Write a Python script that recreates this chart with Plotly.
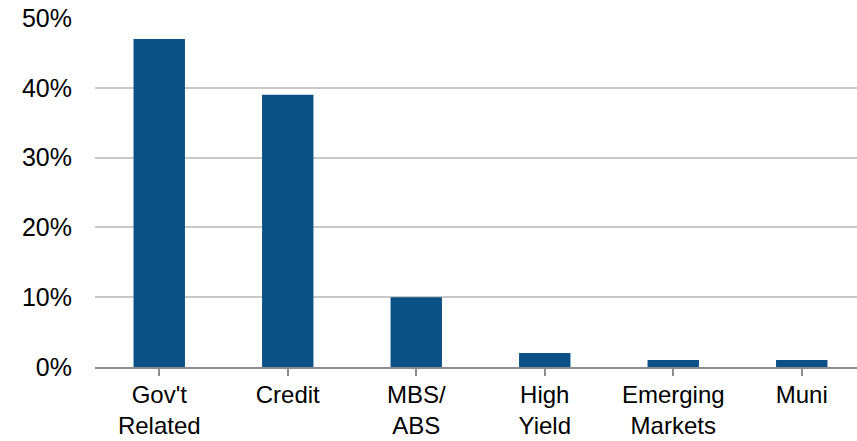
import plotly.graph_objects as go

categories = ["Gov't<br>Related", "Credit", "MBS/<br>ABS", "High<br>Yield", "Emerging<br>Markets", "Muni"]
values = [47, 39, 10, 2, 1, 1]
y_ticks = [0, 10, 20, 30, 40, 50]
y_tick_labels = ["0%", "10%", "20%", "30%", "40%", "50%"]

fig = go.Figure(go.Bar(x=list(range(len(categories))), y=values, marker_color="#0B5185",
                       marker_line_width=0, width=0.4))

fig.update_layout(
    width=857, height=441,
    margin=dict(l=95, r=0, t=18, b=74, autoexpand=False),
    paper_bgcolor="white", plot_bgcolor="white",
    font=dict(family="Liberation Sans, Arial, sans-serif", size=25, color="#000000"),
    showlegend=False,
)
fig.update_xaxes(
    tickmode="array", tickvals=list(range(len(categories))), ticktext=categories,
    range=[-0.5, 5.43], automargin=False,
    showline=True, linecolor="#8C8C8C", linewidth=2,
    ticks="outside", ticklen=7, tickwidth=2, tickcolor="#8C8C8C",
    showgrid=False, zeroline=False, tickson="boundaries",
    tickfont=dict(size=24), ticklabelstandoff=-2,
)
fig.update_yaxes(
    range=[0, 50], tickmode="array", tickvals=y_ticks, ticktext=y_tick_labels,
    showgrid=True, gridcolor="#C8C8C8", gridwidth=2, automargin=False,
    zeroline=False, showline=False, ticks="", ticklabelstandoff=22,
)
fig.write_html("out.html", config={"displayModeBar": False},
               post_script="document.body.style.margin='0';document.body.style.overflow='hidden';")
